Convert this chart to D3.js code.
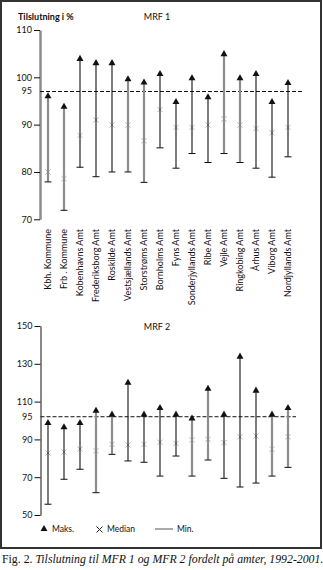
<!DOCTYPE html>
<html><head><meta charset="utf-8">
<script src="https://cdn.jsdelivr.net/npm/d3@7"></script>
<style>
html,body{margin:0;padding:0;background:#fff;}
svg{display:block;}
</style>
</head><body>
<svg id="chart" width="323" height="570"></svg>
<script>
// ---- data ----
const categories = ["Kbh. Kommune","Frb . Kommune","Kobenhavns Amt","Frederiksborg Amt","Roskilde Amt","Vestsjællands Amt","Storstrøms Amt","Bornholms Amt","Fyns Amt","Sonderjyllands Amt","Ribe Amt","Vejle Amt","Ringkobing Amt","Århus Amt","Viborg Amt","Nordjyllands Amt"];

const mrf1Max    = [96.0, 93.8, 103.9, 103.0, 103.0, 99.6, 98.9, 100.7, 94.8, 99.8, 95.8, 104.9, 99.8, 100.7, 94.8, 98.8];
const mrf1Median = [80.0, 78.6, 87.7, 91.0, 89.9, 89.9, 86.6, 93.2, 89.4, 89.4, 89.9, 91.2, 89.9, 89.2, 88.3, 89.4];
const mrf1Min    = [77.9, 71.9, 81.0, 79.0, 80.0, 80.0, 77.8, 85.1, 80.8, 83.9, 82.0, 83.9, 82.0, 80.8, 78.9, 83.2];
const mrf1Group  = [0,0,1,1,1,0,0,1,1,1,1,0,0,1,1,1];

const mrf2Max    = [98.7, 96.4, 98.7, 105.2, 103.1, 120.0, 103.1, 106.6, 103.1, 101.0, 116.8, 103.1, 133.8, 115.8, 103.1, 106.6];
const mrf2Median = [82.8, 83.3, 84.9, 84.0, 87.4, 87.0, 87.4, 88.5, 87.9, 89.7, 90.1, 88.3, 91.4, 91.8, 84.8, 91.4];
const mrf2Min    = [55.7, 68.9, 74.2, 61.8, 82.1, 78.6, 77.9, 70.6, 81.2, 70.6, 79.1, 69.4, 64.8, 66.9, 70.6, 75.2];
const mrf2Group  = [1,1,1,0,0,1,1,1,1,0,0,1,1,1,0,0];

const ticks1 = [70, 80, 90, 100, 110];
const ticks2 = [50, 70, 90, 110, 130, 150];
const refLabel = "95";
const refPos1 = 97;    // where the "95" mark sits on panel 1 as drawn
const refPos2 = 102;   // where the "95" mark sits on panel 2 as drawn
const titles = ["MRF 1", "MRF 2"];
const yTitle = "Tilslutning i %";
const legendLabels = ["Maks.", "Median", "Min."];
const caption = ["Fig. 2. ", "Tilslutning til MFR 1 og MFR 2 fordelt på amter, 1992-2001."];

// ---- drawing ----
const svg = d3.select("#chart");
const FONT = "Lato, 'Open Sans', sans-serif";
const BLACK = "#111", GRAY = "#8c8c8c";
const colorScale = d3.scaleOrdinal().domain([0,1]).range([GRAY, BLACK]);
const widthScale = d3.scaleOrdinal().domain([0,1]).range([2.2, 1.1]);

svg.append("rect").attr("x",1).attr("y",1).attr("width",320).attr("height",547)
  .attr("fill","none").attr("stroke","#333").attr("stroke-width",2);

const x = d3.scalePoint().domain(categories).range([48, 288]);

function panel(cfg){
  const y = d3.scaleLinear().domain(cfg.domain).range(cfg.range);
  const g = svg.append("g");
  const axis = d3.axisLeft(y).tickValues(cfg.ticks).tickSize(6).tickSizeOuter(0).tickPadding(2).tickFormat(d3.format("d"));
  const ag = g.append("g").attr("transform",`translate(${cfg.axisX},0)`).call(axis);
  ag.select(".domain").attr("stroke", cfg.axisColor).attr("stroke-width", cfg.axisWidth);
  ag.selectAll(".tick line").attr("stroke", BLACK).attr("stroke-width",1);
  ag.selectAll(".tick text").attr("font-family",FONT).attr("font-size",9).attr("fill","#111");
  const rg = g.append("g").attr("transform",`translate(${cfg.axisX},${y(cfg.ref)})`);
  rg.append("text").attr("x",-8).attr("dy","0.32em").attr("text-anchor","end")
    .attr("font-family",FONT).attr("font-size",9).attr("fill","#111").text(refLabel);
  g.append("line").attr("x1",cfg.axisX).attr("x2",cfg.refEnd)
    .attr("y1",y(cfg.ref)).attr("y2",y(cfg.ref))
    .attr("stroke",BLACK).attr("stroke-width",1).attr("stroke-dasharray","4,2");
  g.append("text").attr("x",157).attr("y",cfg.titleY).attr("text-anchor","middle")
    .attr("font-family",FONT).attr("font-size",9).attr("fill","#111").text(cfg.title);

  const data = categories.map((c,i)=>({c, max:cfg.max[i], med:cfg.med[i], min:cfg.min[i], grp:cfg.grp[i]}));
  const items = g.selectAll(".item").data(data).join("g").attr("class","item");
  items.append("path").attr("d", d=>{
      const cx = x(d.c), cy = y(d.med), s=2.6;
      return `M${cx-s},${cy-s}L${cx+s},${cy+s}M${cx-s},${cy+s}L${cx+s},${cy-s}`;})
    .attr("stroke","#b8b8b8").attr("stroke-width",1).attr("fill","none");
  items.append("line").attr("x1",d=>x(d.c)).attr("x2",d=>x(d.c))
    .attr("y1",d=>y(d.min)).attr("y2",d=>y(d.max))
    .attr("stroke",d=>colorScale(d.grp)).attr("stroke-width",d=>widthScale(d.grp));
  items.append("line").attr("x1",d=>x(d.c)-3.5).attr("x2",d=>x(d.c)+3.5)
    .attr("y1",d=>y(d.min)).attr("y2",d=>y(d.min))
    .attr("stroke",BLACK).attr("stroke-width",1);
  items.append("path").attr("d", d3.symbol(d3.symbolTriangle, 21))
    .attr("transform",d=>`translate(${x(d.c)},${y(d.max)})`).attr("fill",BLACK);
  return y;
}

panel({domain:[70,110], range:[219.3,30], ticks:ticks1, ref:refPos1, refEnd:302,
  axisX:40, axisColor:GRAY, axisWidth:2.5, title:titles[0], titleY:20,
  max:mrf1Max, med:mrf1Median, min:mrf1Min, grp:mrf1Group});
panel({domain:[50,150], range:[515,326], ticks:ticks2, ref:refPos2, refEnd:296,
  axisX:40.5, axisColor:BLACK, axisWidth:1, title:titles[1], titleY:330,
  max:mrf2Max, med:mrf2Median, min:mrf2Min, grp:mrf2Group});

svg.append("text").attr("x",18).attr("y",20).attr("font-family",FONT).attr("font-size",9)
  .attr("font-weight","bold").attr("fill","#111").text(yTitle);

svg.append("g").selectAll("text").data(categories).join("text")
  .attr("transform",d=>`translate(${x(d)+3},229) rotate(-90)`)
  .attr("text-anchor","end").attr("font-family",FONT).attr("font-size",9).attr("fill","#111")
  .text(d=>d);

const lg = svg.append("g").attr("font-family",FONT).attr("font-size",8.5).attr("fill","#111");
lg.append("path").attr("d", d3.symbol(d3.symbolTriangle, 21)).attr("transform","translate(44,529)").attr("fill",BLACK);
lg.append("text").attr("x",52).attr("y",532).text(legendLabels[0]);
lg.append("path").attr("d","M96.5,526.5L102.5,532.5M96.5,532.5L102.5,526.5").attr("stroke","#222").attr("stroke-width",1);
lg.append("text").attr("x",107).attr("y",532).text(legendLabels[1]);
lg.append("line").attr("x1",155).attr("x2",173).attr("y1",529).attr("y2",529).attr("stroke",GRAY).attr("stroke-width",1.5);
lg.append("text").attr("x",177).attr("y",532).text(legendLabels[2]);

const cap = svg.append("text").attr("x",2).attr("y",563)
  .attr("font-family","'Liberation Serif','DejaVu Serif',serif").attr("font-size",11.8).attr("fill","#111");
cap.append("tspan").text(caption[0]);
cap.append("tspan").attr("font-style","italic").text(caption[1]);
</script>
</body></html>
